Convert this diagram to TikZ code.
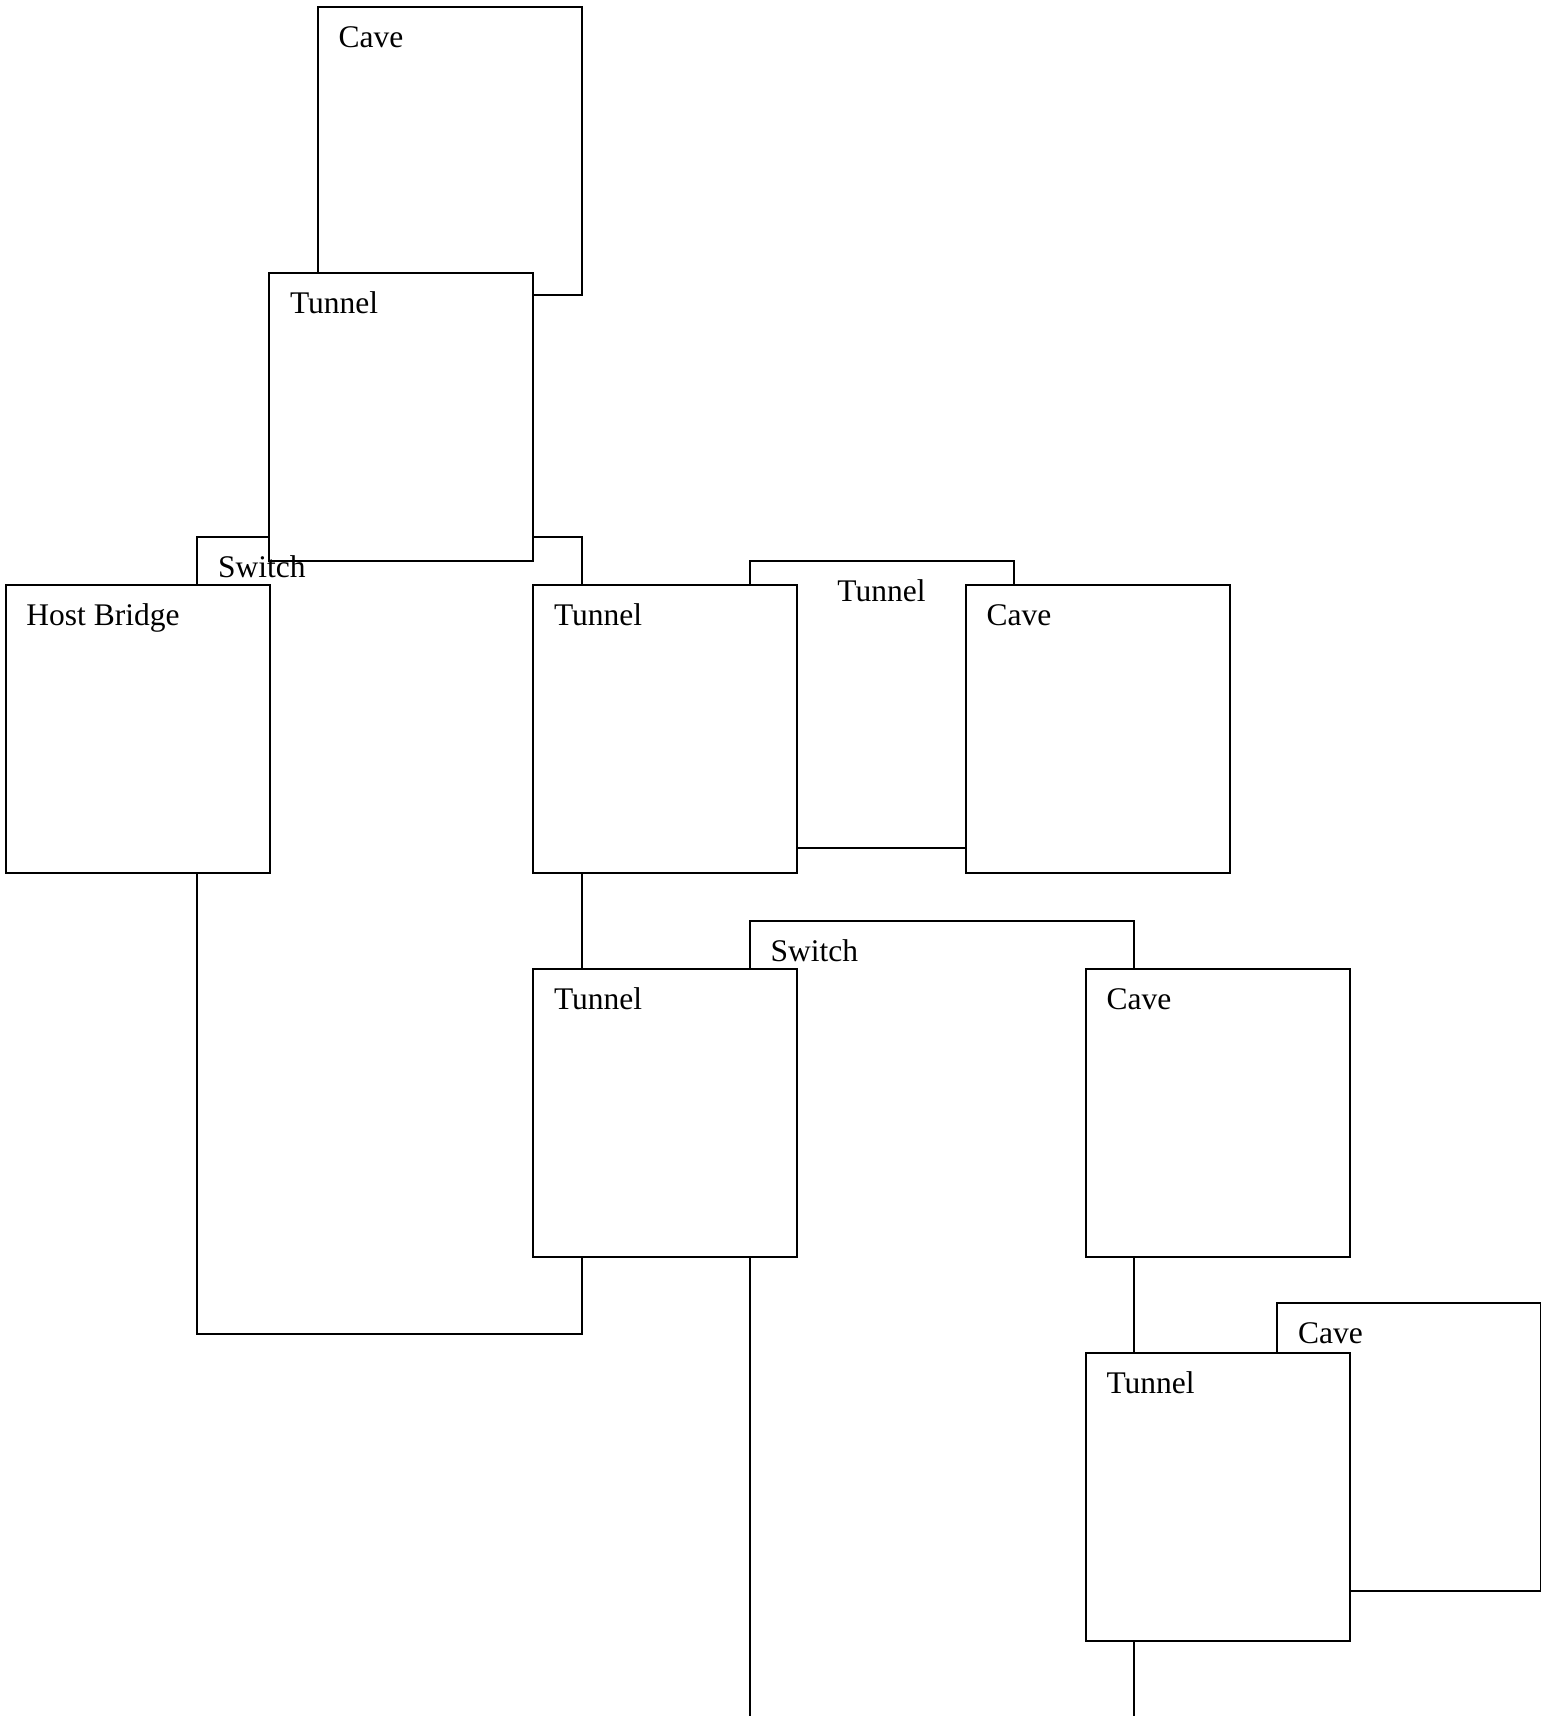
\documentclass[tikz,border=0pt]{standalone}
\usepackage{fontspec}
\setmainfont{Liberation Serif}
\begin{document}
\begin{tikzpicture}[x=1pt,y=-1pt,
  box/.style={draw=black,fill=white,line width=2pt,rectangle,inner sep=0pt,outer sep=0pt,minimum width=264pt,minimum height=288pt,anchor=north west},
  frame/.style={draw=black,line width=2pt,rectangle,inner sep=0pt,outer sep=0pt,anchor=north west},
  lbl/.style={anchor=base west,inner sep=0pt,outer sep=0pt,font=\fontsize{31.5}{36}\selectfont},
  clbl/.style={anchor=base,inner sep=0pt,outer sep=0pt,font=\fontsize{31.5}{36}\selectfont}]
\useasboundingbox (0,0) rectangle (1541,1716);
\clip (0,0) rectangle (1541,1716);
% frames (containers)
\node[frame,minimum width=384.5pt,minimum height=797.5pt] (sw1) at (197,536.5) {};
\node[frame,minimum width=264pt,minimum height=287.5pt] (tunF) at (749.5,560.5) {};
\node[frame,minimum width=384.5pt,minimum height=900pt] (sw2) at (749.5,920.5) {};
% boxes
\node[box] (caveA) at (317.5,6.5) {};
\node[box] (tunA) at (269,272.5) {};
\node[box] (host) at (5.5,584.5) {};
\node[box] (tunB) at (533,584.5) {};
\node[box] (caveB) at (965.5,584.5) {};
\node[box] (tunC) at (533,968.5) {};
\node[box] (caveC) at (1085.5,968.5) {};
\node[box] (caveD) at (1277,1302.5) {};
\node[box] (tunD) at (1085.5,1352.5) {};
% labels
\node[lbl] (lsw1) at ([shift={(21,41)}]sw1.north west) {Switch};
\node[clbl] (ltunF) at ([shift={(0,41)}]tunF.north) {Tunnel};
\node[lbl] (lsw2) at ([shift={(21,41)}]sw2.north west) {Switch};
\node[lbl] (lcaveA) at ([shift={(21,41)}]caveA.north west) {Cave};
\node[lbl] (ltunA) at ([shift={(21,41)}]tunA.north west) {Tunnel};
\node[lbl] (lhost) at ([shift={(21,41)}]host.north west) {Host Bridge};
\node[lbl] (ltunB) at ([shift={(21,41)}]tunB.north west) {Tunnel};
\node[lbl] (lcaveB) at ([shift={(21,41)}]caveB.north west) {Cave};
\node[lbl] (ltunC) at ([shift={(21,41)}]tunC.north west) {Tunnel};
\node[lbl] (lcaveC) at ([shift={(21,41)}]caveC.north west) {Cave};
\node[lbl] (lcaveD) at ([shift={(21,41)}]caveD.north west) {Cave};
\node[lbl] (ltunD) at ([shift={(21,41)}]tunD.north west) {Tunnel};
\end{tikzpicture}
\end{document}
